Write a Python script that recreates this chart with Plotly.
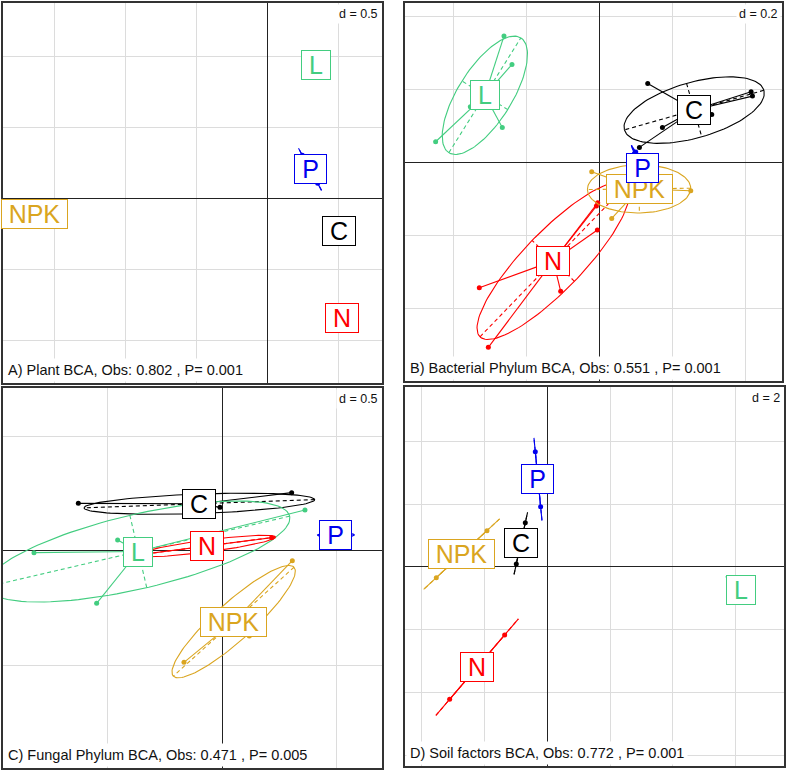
import numpy as np
import plotly.graph_objects as go

# ---------------- data ----------------
groups = ["C", "L", "N", "NPK", "P"]
colors = {"C": "#000000", "L": "#43CD80", "N": "#FF0000", "NPK": "#DAA520", "P": "#0000EE"}

# A) Plant BCA
plant_x = {"C": [0.500], "L": [0.336], "N": [0.523], "NPK": [-1.641], "P": [0.242, 0.350]}
plant_y = {"C": [-0.228], "L": [0.944], "N": [-0.836], "NPK": [-0.106], "P": [0.308, 0.110]}

# B) Bacterial Phylum BCA
bact_x = {
    "C": [0.1315, 0.4146, 0.4183, 0.3068, 0.1717, 0.1087],
    "L": [-0.2621, -0.2402, -0.3543, -0.2667, -0.4493],
    "N": [-0.0055, -0.0091, -0.0064, -0.3297, -0.1068, -0.3050],
    "NPK": [-0.0219, 0.2493, 0.0329, 0.1370, 0.1416],
    "P": [0.0950, 0.0986, 0.1352, 0.1388],
}
bact_y = {
    "C": [0.2164, 0.1936, 0.1817, 0.1315, 0.0959, 0.0411],
    "L": [0.3461, 0.2685, 0.1525, 0.0959, 0.0566],
    "N": [-0.1105, -0.1196, -0.1854, -0.3434, -0.3534, -0.5068],
    "NPK": [-0.0256, -0.0776, -0.1534, -0.0438, -0.0621],
    "P": [0.0247, 0.0283, -0.0575, -0.0539],
}

# C) Fungal Phylum BCA
fung_x = {
    "C": [-0.6288, 0.3028, -0.0102, -0.0655],
    "L": [-0.8224, -0.4571, -0.5488, 0.3610],
    "N": [0.2154, -0.3508, -0.0660, -0.0710],
    "NPK": [0.3057, -0.1674, 0.1179, -0.0582],
    "P": [0.4425, 0.4425, 0.5502, 0.5502],
}
fung_y = {
    "C": [0.2067, 0.2533, 0.1892, 0.1703],
    "L": [-0.0087, 0.0466, -0.2300, 0.1776],
    "N": [0.0568, -0.0160, 0.0450, -0.0050],
    "NPK": [-0.0437, -0.4876, -0.3726, -0.3362],
    "P": [0.0611, 0.0757, 0.0611, 0.0757],
}

# D) Soil factors BCA
soil_x = {"C": [-0.702, -0.989], "L": [5.848, 6.486], "N": [-1.361, -3.115],
          "NPK": [-1.925, -3.541], "P": [-0.383, -0.213]}
soil_y = {"C": [1.414, 0.096], "L": [-0.447, -1.021], "N": [-2.169, -4.221],
          "NPK": [1.159, -0.340], "P": [3.679, 1.925]}

titles = ["A) Plant BCA, Obs: 0.802 , P= 0.001",
          "B) Bacterial Phylum BCA, Obs: 0.551 , P= 0.001",
          "C) Fungal Phylum BCA, Obs: 0.471 , P= 0.005",
          "D) Soil factors BCA, Obs: 0.772 , P= 0.001"]
d_labels = ["d = 0.5", "d = 0.2", "d = 0.5", "d = 2"]
grid_steps = [0.5, 0.2, 0.5, 2.0]

# ---------------- layout geometry ----------------
W, H = 787, 771
panels = [
    dict(px=(3, 382), py=(3, 383), xr=(-1.866, 0.803), yr=(-1.296, 1.380)),
    dict(px=(404.7, 782.3), py=(3.3, 381), xr=(-0.534, 0.500), yr=(-0.599, 0.436)),
    dict(px=(2.7, 381.7), py=(388.3, 768), xr=(-0.959, 0.696), yr=(-0.949, 0.709)),
    dict(px=(404.7, 783.7), py=(386.7, 766), xr=(-4.549, 7.541), yr=(-6.348, 5.751)),
]
datasets = [(plant_x, plant_y), (bact_x, bact_y), (fung_x, fung_y), (soil_x, soil_y)]

FONT = "Liberation Sans, Arial, sans-serif"
char_w = {"C": 0.722, "L": 0.556, "N": 0.722, "P": 0.667, "K": 0.667}
LFS = 25


def ell(xs, ys, k=1.5, n=120):
    x = np.asarray(xs, float)
    y = np.asarray(ys, float)
    mx, my = x.mean(), y.mean()
    vx = ((x - mx) ** 2).mean()
    vy = ((y - my) ** 2).mean()
    cxy = ((x - mx) * (y - my)).mean()
    vals, vecs = np.linalg.eigh(np.array([[vx, cxy], [cxy, vy]]))
    vals = np.clip(vals, 0, None)
    a = k * np.sqrt(vals[1])
    b = k * np.sqrt(vals[0])
    u = vecs[:, 1]
    v = vecs[:, 0]
    t = np.linspace(0, 2 * np.pi, n)
    ex = mx + a * np.cos(t) * u[0] + b * np.sin(t) * v[0]
    ey = my + a * np.cos(t) * u[1] + b * np.sin(t) * v[1]
    axx = [mx - a * u[0], mx + a * u[0], None, mx - b * v[0], mx + b * v[0]]
    axy = [my - a * u[1], my + a * u[1], None, my - b * v[1], my + b * v[1]]
    return mx, my, a, ex, ey, axx, axy


fig = go.Figure()
annotations = []
layout_axes = {}

for i, (pan, (dx, dy)) in enumerate(zip(panels, datasets)):
    n = "" if i == 0 else str(i + 1)
    xa, ya = "x" + n, "y" + n
    step = grid_steps[i]
    xt = [k * step for k in range(int(np.floor(pan["xr"][0] / step)), int(np.ceil(pan["xr"][1] / step)) + 1)]
    yt = [k * step for k in range(int(np.floor(pan["yr"][0] / step)), int(np.ceil(pan["yr"][1] / step)) + 1)]
    common = dict(showticklabels=False, ticks="", showgrid=True, gridcolor="#dcdcdc", gridwidth=1,
                  zeroline=True, zerolinecolor="#222222", zerolinewidth=1.2,
                  showline=True, linecolor="#333333", linewidth=1.5, mirror=True, fixedrange=True)
    layout_axes["xaxis" + n] = dict(common, domain=[pan["px"][0] / W, pan["px"][1] / W],
                                    range=list(pan["xr"]), tickvals=xt, anchor=ya)
    layout_axes["yaxis" + n] = dict(common, domain=[1 - pan["py"][1] / H, 1 - pan["py"][0] / H],
                                    range=list(pan["yr"]), tickvals=yt, anchor=xa)

    for g in groups:
        xs, ys = dx[g], dy[g]
        col = colors[g]
        mx, my, a, ex, ey, axx, axy = ell(xs, ys)
        if a > 0:
            sx, sy = [], []
            for px_, py_ in zip(xs, ys):
                sx += [mx, px_, None]
                sy += [my, py_, None]
            fig.add_trace(go.Scatter(x=sx, y=sy, mode="lines", line=dict(color=col, width=1.1),
                                     xaxis=xa, yaxis=ya, showlegend=False, hoverinfo="skip"))
            fig.add_trace(go.Scatter(x=ex, y=ey, mode="lines", line=dict(color=col, width=1.1),
                                     xaxis=xa, yaxis=ya, showlegend=False, hoverinfo="skip"))
            fig.add_trace(go.Scatter(x=axx, y=axy, mode="lines",
                                     line=dict(color=col, width=1.1, dash="4px,3px"),
                                     xaxis=xa, yaxis=ya, showlegend=False, hoverinfo="skip"))
            fig.add_trace(go.Scatter(x=xs, y=ys, mode="markers",
                                     marker=dict(color=col, size=5, line=dict(width=0)),
                                     xaxis=xa, yaxis=ya, showlegend=False, hoverinfo="skip"))
        wbox = round(sum(char_w[c] for c in g) * LFS) + 14
        annotations.append(dict(x=mx, y=my, xref=xa, yref=ya, text=g, showarrow=False,
                                font=dict(family=FONT, size=LFS, color=col),
                                bgcolor="white", bordercolor=col, borderwidth=1, borderpad=0,
                                width=wbox, height=28, xanchor="center", yanchor="middle"))

    annotations.append(dict(x=0, y=0, xref=xa + " domain", yref=ya + " domain", text=titles[i],
                            showarrow=False, xanchor="left", yanchor="bottom", xshift=1, yshift=1,
                            font=dict(family=FONT, size=14.5, color="#111111"),
                            bgcolor="white", borderpad=3))
    annotations.append(dict(x=1, y=1, xref=xa + " domain", yref=ya + " domain", text=d_labels[i],
                            showarrow=False, xanchor="right", yanchor="top", xshift=-1, yshift=-1,
                            font=dict(family=FONT, size=12.5, color="#111111"),
                            bgcolor="white", borderpad=2))

fig.update_layout(width=W, height=H, margin=dict(l=0, r=0, t=0, b=0),
                  paper_bgcolor="white", plot_bgcolor="white",
                  annotations=annotations, showlegend=False, **layout_axes)

fig.write_html("out.html", config={"displayModeBar": False},
               post_script="document.body.style.margin='0';document.body.style.padding='0';"
                           "document.body.style.overflow='hidden';")
